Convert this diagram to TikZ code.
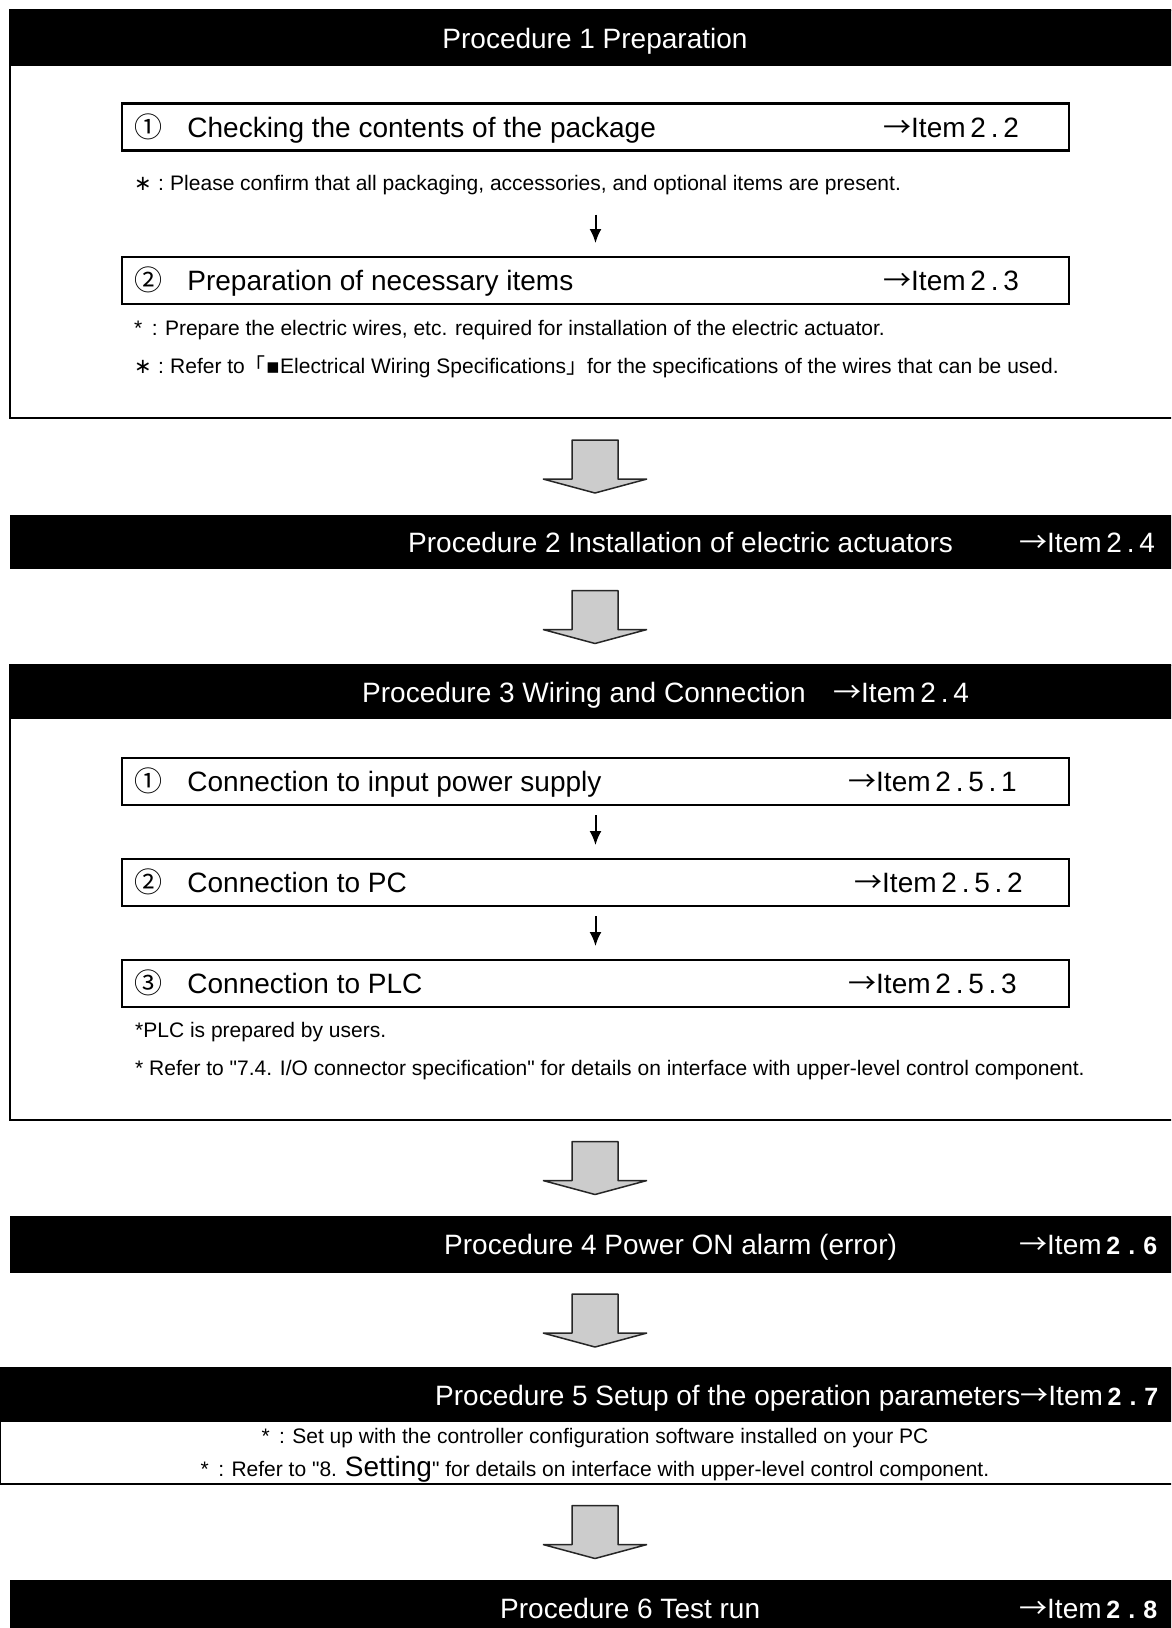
\documentclass[tikz,border=0pt]{standalone}
\usepackage{fontspec}
\setmainfont{Liberation Sans}
\newfontfamily\cjk{Noto Sans CJK JP}
\newfontfamily\sym{DejaVu Sans}
\usetikzlibrary{arrows.meta,calc}

% spacing of the item numbers
\newcommand\dsep{\kern.17em}
\newcommand\toitem{{\cjk →}Item\dsep}
\newcommand\bnum[2]{{\fontsize{25}{25}\selectfont\bfseries #1\kern8pt.\kern8pt#2}}
\newcommand\astc{{\sym ∗}\hspace{.3em}:\hspace{.3em}}
\newcommand\ascc{*\hspace{.45em}:\hspace{.35em}}

\tikzset{
  headtext/.style={font=\fontsize{28}{32}\selectfont, text height=20pt, text depth=0pt, inner sep=0pt},
  notetext/.style={font=\fontsize{21}{24}\selectfont, text height=15pt, text depth=0pt, inner sep=0pt},
  procbar/.style={fill=black, minimum width=1170pt, minimum height=#1, inner sep=0pt, outer sep=0pt},
  procframe/.style={draw, line width=2.5pt, minimum width=1170pt, minimum height=#1, inner sep=0pt, outer sep=0pt},
  stepbox/.style={draw, line width=2.5pt, minimum width=947pt, minimum height=47pt, inner sep=0pt, outer sep=0pt},
  flow/.style={-{Latex[length=14pt,width=12pt]}, line width=2pt, shorten <=10pt, shorten >=14pt},
  blockarrow/.style={fill=black!20, draw=black!85, line width=1.5pt, line join=bevel}
}

\begin{document}
\begin{tikzpicture}[x=1pt,y=-1pt]
\useasboundingbox (0,0) rectangle (1171,1628);
\clip (0,0) rectangle (1171,1628);

% frames and bars
\node[procframe=408pt] (frame1) at (595,214) {};
\node[procbar=56pt] (bar1) at (595,38) {};
\node[procbar=54pt] (bar2) at (595,542) {};
\node[procframe=455pt] (frame3) at (595,892.5) {};
\node[procbar=54pt] (bar3) at (595,692) {};
\node[procbar=57pt] (bar4) at (595,1244.5) {};
\node[procframe=116pt, minimum width=1190pt] (frame5) at (595,1426) {};
\node[procbar=54pt, minimum width=1190pt] (bar5) at (595,1395) {};
\node[procbar=56pt] (bar6) at (595,1608) {};

% step boxes
\node[stepbox] (check) at (595.5,127) {};
\node[stepbox] (prep) at (595.5,280.5) {};
\node[stepbox] (power) at (595.5,781.5) {};
\node[stepbox] (pc) at (595.5,882.5) {};
\node[stepbox] (plc) at (595.5,983.5) {};

\begin{scope}[every node/.style={headtext, text=white, anchor=west}]
  \node[anchor=center] (title1) at (595,38) {Procedure 1 Preparation};
  \node (title2) at (408,542) {Procedure 2 Installation of electric actuators};
  \node (item2) at (1019,542) {\toitem 2\dsep.\dsep4};
  \node (title3) at (362,692) {Procedure 3 Wiring and Connection};
  \node (item3) at (833,692) {\toitem 2\dsep.\dsep4};
  \node (title4) at (444,1244.5) {Procedure 4 Power ON alarm (error)};
  \node (item4) at (1019,1244.5) {\toitem\bnum{2}{6}};
  \node (title5) at (435,1395) {Procedure 5 Setup of the operation parameters\toitem\bnum{2}{7}};
  \node (title6) at (500,1608) {Procedure 6 Test run};
  \node (item6) at (1019,1608) {\toitem\bnum{2}{8}};
\end{scope}

\begin{scope}[every node/.style={headtext, anchor=west}]
  \node (checkT) at (134,127) {{\cjk ①}\hspace{.9em}Checking the contents of the package};
  \node (checkI) at (883,127) {\toitem 2\dsep.\dsep2};
  \node (prepT) at (134,280.5) {{\cjk ②}\hspace{.9em}Preparation of necessary items};
  \node (prepI) at (883,280.5) {\toitem 2\dsep.\dsep3};
  \node (powerT) at (134,781.5) {{\cjk ①}\hspace{.9em}Connection to input power supply};
  \node (powerI) at (848,781.5) {\toitem 2\dsep.\dsep5\dsep.\dsep1};
  \node (pcT) at (134,882.5) {{\cjk ②}\hspace{.9em}Connection to PC};
  \node (pcI) at (854,882.5) {\toitem 2\dsep.\dsep5\dsep.\dsep2};
  \node (plcT) at (134,983.5) {{\cjk ③}\hspace{.9em}Connection to PLC};
  \node (plcI) at (848,983.5) {\toitem 2\dsep.\dsep5\dsep.\dsep3};
\end{scope}

\begin{scope}[every node/.style={notetext, anchor=west}]
  \node (checkN) at (134,183) {\astc Please confirm that all packaging, accessories, and optional items are present.};
  \node (prepN1) at (134,328) {\ascc Prepare the electric wires, etc. required for installation of the electric actuator.};
  \node (prepN2) at (134,366) {\astc Refer to{\cjk 「}{\sym ▪}Electrical Wiring Specifications{\cjk 」}for the specifications of the wires that can be used.};
  \node (plcN1) at (135,1030) {*PLC is prepared by users.};
  \node (plcN2) at (135,1068) {* Refer to \textquotedbl 7.4. I/O connector specification\textquotedbl{} for details on interface with upper-level control component.};
  \node[anchor=center] (setN1) at (595,1436) {\ascc Set up with the controller configuration software installed on your PC};
  \node[anchor=center] (setN2) at (595,1469) {\ascc Refer to \textquotedbl 8. {\fontsize{28}{28}\selectfont Setting}\textquotedbl{} for details on interface with upper-level control component.};
\end{scope}

% small arrows
\draw[flow, shorten <=24pt] (checkN.south -| check.south) -- (prep.north);
\draw[flow] (power) -- (pc);
\draw[flow] (pc) -- (plc);

% block arrows between procedures
\foreach \a/\b in {frame1/bar2, bar2/bar3, frame3/bar4, bar4/frame5, frame5/bar6}
  \draw[blockarrow] ($(\a.south)!.5!(\b.north)$) ++(-23,-26.5) -- ++(46,0) -- ++(0,39) -- ++(29,0) -- ++(-52,14) -- ++(-52,-14) -- ++(29,0) -- cycle;

\end{tikzpicture}
\end{document}
